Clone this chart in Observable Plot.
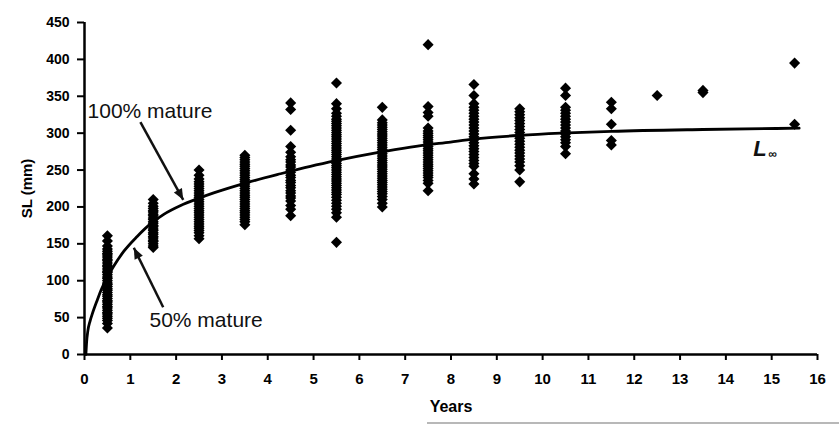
<!DOCTYPE html>
<html>
<head>
<meta charset="utf-8">
<script src="https://cdn.jsdelivr.net/npm/d3@7"></script>
<script src="https://cdn.jsdelivr.net/npm/@observablehq/plot@0.6"></script>
<style>
  html, body { margin: 0; padding: 0; background: #fff; }
  #wrap { position: relative; width: 839px; height: 424px; overflow: hidden; }
  #edge { position: absolute; left: 427px; top: 422px; width: 412px; height: 2px; background: #b8b8b8; }
</style>
</head>
<body>
<div id="wrap"><div id="chart"></div><div id="edge"></div></div>
<script>
// ---- Data ----
const xTicks = [0,1,2,3,4,5,6,7,8,9,10,11,12,13,14,15,16];
const yTicks = [0,50,100,150,200,250,300,350,400,450];

const sl_0_5 = [161,154,147,143,140,137,135,132,129,127,124,121,119,116,113,111,108,105,103,100,97,95,92,89,87,84,81,79,76,73,71,68,65,63,60,57,55,52,49,46,42,36];
const sl_1_5 = [210,205,201,198,195,193,190,188,185,183,180,178,175,173,170,168,165,163,160,158,155,153,150,147,145];
const sl_2_5 = [250,243,238,234,231,228,225,222,219,216,213,210,207,204,201,198,195,192,189,186,183,180,177,174,171,168,165,161,157];
const sl_3_5 = [270,267,264,261,258,255,252,249,246,243,240,237,234,231,228,225,222,219,216,213,210,207,204,201,198,195,192,189,186,183,180,176];
const sl_4_5 = [341,332,304,282,274,268,264,261,257,254,250,247,243,240,236,233,229,226,222,219,215,212,208,202,197,188];
const sl_5_5 = [368,340,333,327,323,319,316,313,310,307,304,301,298,295,292,289,286,283,280,277,274,271,268,265,262,259,256,253,250,247,244,241,238,235,232,229,226,223,220,217,213,209,205,201,197,192,186,152];
const sl_6_5 = [335,318,314,311,308,305,302,299,296,293,290,287,284,281,278,275,272,269,266,263,260,257,254,251,248,245,242,239,236,233,230,227,224,221,218,214,210,205,200];
const sl_7_5 = [420,336,328,323,307,303,300,297,294,291,288,285,282,279,276,273,270,267,264,261,258,255,252,249,246,243,240,236,232,222];
const sl_8_5 = [366,351,340,335,331,327,323,319,315,311,307,303,299,295,291,287,283,279,275,271,267,263,259,255,245,238,231];
const sl_9_5 = [333,329,325,321,317,313,309,305,301,297,293,289,285,281,277,273,269,265,261,256,250,234];
const sl_10_5 = [361,351,335,331,327,323,319,315,311,307,303,299,295,291,287,282,272];
const sl_11_5 = [342,333,312,290,284];
const sl_12_5 = [351];
const sl_13_5 = [355,358];
const sl_15_5 = [395,312];

const ages = [0.5,1.5,2.5,3.5,4.5,5.5,6.5,7.5,8.5,9.5,10.5,11.5,12.5,13.5,15.5];
const slSeries = [sl_0_5,sl_1_5,sl_2_5,sl_3_5,sl_4_5,sl_5_5,sl_6_5,sl_7_5,sl_8_5,sl_9_5,sl_10_5,sl_11_5,sl_12_5,sl_13_5,sl_15_5];

// growth curve
const curveT = [0.03,0.045,0.073,0.12,0.17,0.28,0.36,0.5,0.64,0.86,1.15,1.42,1.73,2.1,2.46,2.82,3.55,4.28,4.93,5.52,6.39,7.12,7.99,8.5,9.5,10.4,11.5,13.5,15.6];
const curveL = [0,16,32,45,55,74,87,105,120,140,160,176,190,202,211,219,233,245,255,263,273.5,281,288,292,297,300,302.5,305,306.7];

// annotations (data coordinates)
const noteText = ["100% mature","50% mature"];
const noteX = [0.066,1.419];
const noteY = [320,36.6];
const arrowX1 = [1.22,1.718];
const arrowY1 = [315,64];
const arrowX2 = [2.155,1.077];
const arrowY2 = [209.7,144.6];
const linfX = 14.6, linfY = 269.5;
const infX = 14.93, infY = 266.5;

// ---- build tables ----
const points = ages.flatMap((a, i) => slSeries[i].map(v => ({age: a, sl: v})));
const curve = curveT.map((t, i) => ({t, l: curveL[i]}));
const notes = noteText.map((s, i) => ({s, x: noteX[i], y: noteY[i]}));
const arrows = arrowX1.map((x1, i) => ({x1, y1: arrowY1[i], x2: arrowX2[i], y2: arrowY2[i]}));

const font = "'Liberation Sans', Arial, Helvetica, sans-serif";

const plot = Plot.plot({
  width: 839,
  height: 424,
  marginLeft: 84,
  marginRight: 22,
  marginTop: 22,
  marginBottom: 70,
  x: {domain: [0, 16]},
  y: {domain: [0, 450]},
  style: {fontFamily: font, fontSize: "14px", color: "#000", background: "#fff", overflow: "visible"},
  marks: [
    Plot.axisY({ticks: yTicks, tickSize: 7, tickPadding: 8, fontSize: 14, fontWeight: "bold", strokeWidth: 2, label: null, tickFormat: d => d}),
    Plot.axisX({ticks: xTicks, tickSize: 6, tickPadding: 13, fontSize: 15, fontWeight: "bold", strokeWidth: 2, label: null, tickFormat: d => d}),
    Plot.ruleX([0], {stroke: "#000", strokeWidth: 2.5}),
    Plot.ruleY([0], {stroke: "#000", strokeWidth: 2.5}),
    Plot.dot(points, {x: "age", y: "sl", symbol: "diamond2", r: 5, fill: "#000", stroke: "none"}),
    Plot.line(curve, {x: "t", y: "l", curve: "monotone-x", stroke: "#000", strokeWidth: 2.8}),
    Plot.link(arrows, {x1: "x1", y1: "y1", x2: "x2", y2: "y2", stroke: "#111", strokeWidth: 2.5, markerEnd: "arrow"}),
    Plot.text(notes, {x: "x", y: "y", text: "s", textAnchor: "start", lineAnchor: "bottom", fontSize: 21, fontWeight: "normal", fill: "#111"}),
    Plot.text(["L"], {x: linfX, y: linfY, textAnchor: "start", lineAnchor: "bottom", fontSize: 22, fontStyle: "italic", fontWeight: "bold", fill: "#111"}),
    Plot.text(["∞"], {x: infX, y: infY, textAnchor: "start", lineAnchor: "bottom", fontSize: 12, fontWeight: "bold", fill: "#111"}),
    Plot.text(["SL (mm)"], {frameAnchor: "left", dx: -57, rotate: -90, textAnchor: "middle", lineAnchor: "middle", fontSize: 15, fontWeight: "bold", fill: "#000"}),
    Plot.text(["Years"], {frameAnchor: "bottom", dy: 52.5, textAnchor: "middle", lineAnchor: "middle", fontSize: 16, fontWeight: "bold", fill: "#000"})
  ]
});

// filled arrowheads
plot.querySelectorAll("marker").forEach(m => {
  m.setAttribute("viewBox", "-12 -6 12 12");
  m.setAttribute("markerUnits", "userSpaceOnUse");
  m.setAttribute("markerWidth", "12");
  m.setAttribute("markerHeight", "12");
  m.setAttribute("refX", "0");
  m.setAttribute("refY", "0");
  m.setAttribute("fill", "#111");
  m.setAttribute("stroke", "none");
  m.innerHTML = '<path d="M-11,-4.6L0,0L-11,4.6Z" fill="#111" stroke="none"></path>';
});

document.getElementById("chart").appendChild(plot);
</script>
</body>
</html>
